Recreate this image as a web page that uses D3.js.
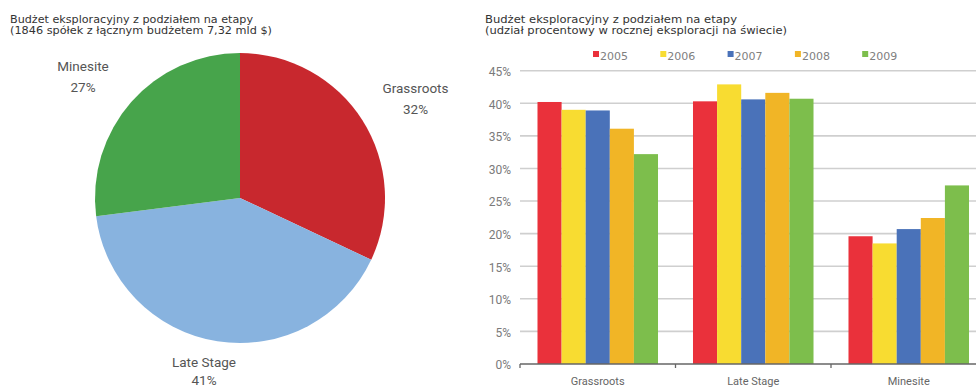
<!DOCTYPE html>
<html><head><meta charset="utf-8">
<script src="https://cdn.jsdelivr.net/npm/d3@7/dist/d3.min.js"></script>
<style>body{margin:0;background:#fff;overflow:hidden}svg{display:block}</style>
</head><body>
<svg id="c" width="976" height="387"></svg>
<script>
// ---- data ----
const pieCategories = ["Grassroots", "Late Stage", "Minesite"];
const pieValues = [32, 41, 27];
const pieColors = ["#c8282e", "#88b3df", "#47a44b"];

const barCategories = ["Grassroots", "Late Stage", "Minesite"];
const years = ["2005", "2006", "2007", "2008", "2009"];
const series2005 = [40.2, 40.3, 19.6];
const series2006 = [39.0, 42.9, 18.5];
const series2007 = [38.9, 40.6, 20.7];
const series2008 = [36.1, 41.6, 22.4];
const series2009 = [32.2, 40.7, 27.4];
const yearColors = ["#ea313b", "#f8dc31", "#4a72b9", "#f1b526", "#7dbe4c"];
const yTicks = [0, 5, 10, 15, 20, 25, 30, 35, 40, 45];

const pieTitle = ["Budżet eksploracyjny z podziałem na etapy", "(1846 spółek z łącznym budżetem 7,32 mld $)"];
const barTitle = ["Budżet eksploracyjny z podziałem na etapy", "(udział procentowy w rocznej eksploracji na świecie)"];

const svg = d3.select("#c");
const titleFont = "'DejaVu Sans', Verdana, sans-serif";
const labelFont = "Roboto, 'Noto Sans', sans-serif";

// ---- titles ----
function title(x, lines, widths) {
  lines.forEach((l, i) => {
    svg.append("text").attr("x", x).attr("y", 23 + i * 11)
      .attr("font-family", titleFont).attr("font-size", 10.2).attr("fill", "#333")
      .attr("textLength", widths[i]).attr("lengthAdjust", "spacingAndGlyphs").text(l);
  });
}
title(10, pieTitle, [243, 262]);
title(485, barTitle, [252, 302]);

// ---- pie ----
const cx = 240, cy = 198, r = 145;
const pie = d3.pie().sort(null).value(d => d.v);
const arcs = pie(pieCategories.map((c, i) => ({ c, v: pieValues[i], col: pieColors[i] })));
const arc = d3.arc().innerRadius(0).outerRadius(r);
const pg = svg.append("g").attr("transform", `translate(${cx},${cy})`);
pg.selectAll("path").data(arcs).join("path").attr("d", arc).attr("fill", d => d.data.col);

const pieLabelPos = { "Grassroots": [415.5, 93, 20.5], "Late Stage": [204, 367, 17.5], "Minesite": [83, 71, 20.5] };
arcs.forEach(a => {
  const [x, y, dy] = pieLabelPos[a.data.c];
  const t = svg.append("text").attr("x", x).attr("y", y).attr("text-anchor", "middle")
    .attr("font-family", labelFont).attr("font-size", 13.5).attr("fill", "#555");
  t.append("tspan").attr("x", x).text(a.data.c);
  t.append("tspan").attr("x", x).attr("dy", dy).text(a.data.v + "%");
});

// ---- bar chart ----
const x0 = 520, bandW = 155.5;
const x = d3.scaleBand().domain(barCategories).range([x0, x0 + bandW * 3]).paddingInner(0.225).paddingOuter(0.1125);
const xs = d3.scaleBand().domain(years).range([0, x.bandwidth()]).padding(0);
const y = d3.scaleLinear().domain([0, 45]).range([364, 70.7]);
const seriesAll = [series2005, series2006, series2007, series2008, series2009];

const bg = svg.append("g");
// gridlines
bg.selectAll("line.grid").data(yTicks.filter(d => d > 0)).join("line")
  .attr("x1", x0).attr("x2", 976).attr("y1", d => y(d)).attr("y2", d => y(d))
  .attr("stroke", "#cfcfcf").attr("stroke-width", 1.6);

// y axis labels
const yAxis = d3.axisLeft(y).tickValues(yTicks).tickFormat(d => d + "%").tickSize(0).tickPadding(9);
const ya = svg.append("g").attr("transform", `translate(${x0},0)`).call(yAxis);
ya.select(".domain").remove();
ya.selectAll("text").attr("font-family", labelFont).attr("font-size", 12).attr("fill", "#7a7a7a").attr("dy", "0.4em");

// bars
years.forEach((yr, j) => {
  bg.selectAll(null).data(barCategories).join("rect")
    .attr("x", c => x(c) + xs(yr))
    .attr("y", (c, i) => y(seriesAll[j][i]))
    .attr("width", xs.bandwidth())
    .attr("height", (c, i) => y(0) - y(seriesAll[j][i]))
    .attr("fill", yearColors[j]);
});

// x axis
const xa = svg.append("g").attr("transform", `translate(0,${y(0)})`)
  .call(d3.axisBottom(x).tickSize(0).tickPadding(13));
xa.select(".domain").attr("d", `M${x0},0H976`).attr("stroke", "#666").attr("stroke-width", 1.6);
xa.selectAll("text").attr("font-family", labelFont).attr("font-size", 11).attr("fill", "#666");
// separator ticks
const seps = [x0, x0 + bandW, x0 + bandW * 2];
svg.selectAll("line.sep").data(seps).join("line")
  .attr("x1", d => d).attr("x2", d => d).attr("y1", y(0)).attr("y2", y(0) + 4)
  .attr("stroke", "#666").attr("stroke-width", 1.3);

// legend
const lg = svg.append("g");
years.forEach((yr, j) => {
  const lx = 593 + j * 67.3;
  lg.append("rect").attr("x", lx).attr("y", 51).attr("width", 6).attr("height", 6).attr("fill", yearColors[j]);
  lg.append("text").attr("x", lx + 7).attr("y", 59.5).attr("font-family", "'DejaVu Sans', Verdana, sans-serif")
    .attr("font-size", 11).attr("fill", "#808080").text(yr);
});
</script>
</body></html>
